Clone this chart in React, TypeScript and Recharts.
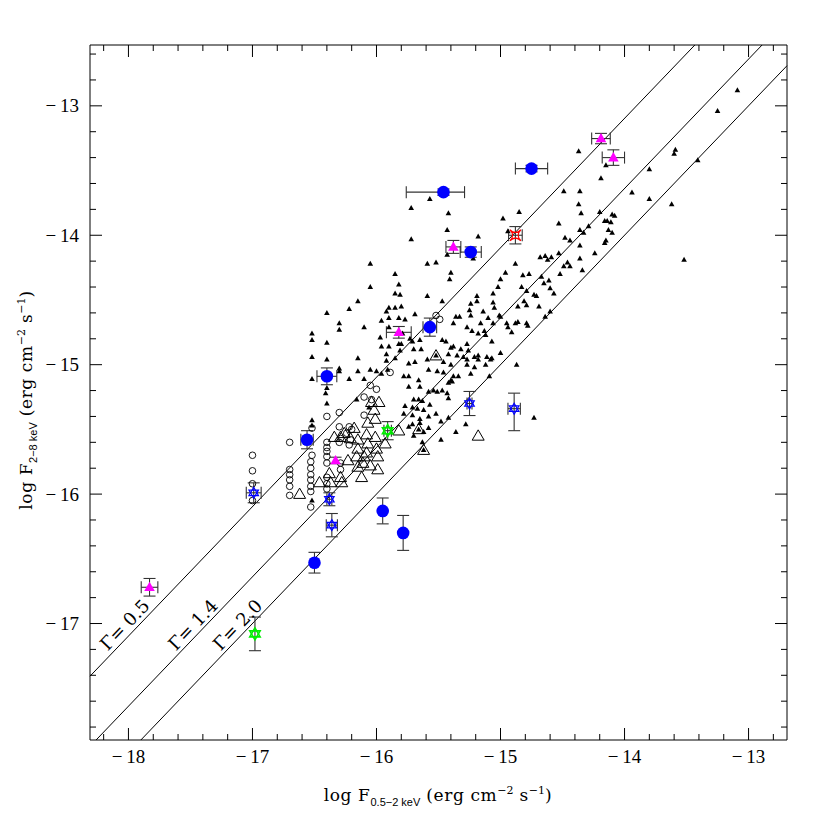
import React from "react"
import { ScatterChart, Scatter, XAxis, YAxis, ErrorBar, ReferenceLine } from "recharts"

// axis ranges (log flux)
const xDomain: [number, number] = [-18.31, -12.69]
const yDomain: [number, number] = [-17.9, -12.53]

const xTicks = [-18.2, -18, -17.8, -17.6, -17.4, -17.2, -17, -16.8, -16.6, -16.4, -16.2, -16, -15.8, -15.6, -15.4, -15.2, -15, -14.8, -14.6, -14.4, -14.2, -14, -13.8, -13.6, -13.4, -13.2, -13, -12.8]
const yTicks = [-17.8, -17.6, -17.4, -17.2, -17, -16.8, -16.6, -16.4, -16.2, -16, -15.8, -15.6, -15.4, -15.2, -15, -14.8, -14.6, -14.4, -14.2, -14, -13.8, -13.6, -13.4, -13.2, -13, -12.8, -12.6]

// small filled triangles (x-ray sources)
const smallTriangles = [
  [-15.57, -13.72], [-15.72, -13.79], [-15.72, -14.03], [-16.05, -14.22], [-15.59, -14.22], [-15.52, -14.21],
  [-15.85, -14.30], [-16.05, -14.40], [-15.82, -14.38], [-15.85, -14.45], [-15.81, -14.46], [-15.59, -14.47],
  [-16.15, -14.51], [-16.22, -14.57], [-15.80, -14.55], [-15.90, -14.56], [-15.85, -14.56], [-16.40, -14.60],
  [-15.92, -14.59], [-15.69, -14.61], [-15.96, -14.66], [-15.82, -14.64], [-15.77, -14.65], [-16.30, -14.68],
  [-16.30, -14.73], [-16.10, -14.71], [-15.90, -14.71], [-16.52, -14.76], [-16.52, -14.81], [-16.40, -14.83],
  [-15.79, -14.76], [-15.73, -14.80], [-15.96, -14.86], [-15.90, -14.86], [-15.82, -14.84], [-15.80, -14.84],
  [-15.71, -14.82], [-15.65, -14.81], [-15.64, -14.88], [-15.92, -14.92], [-16.52, -14.94], [-16.40, -14.96],
  [-16.15, -14.95], [-15.92, -14.97], [-15.74, -14.99], [-15.69, -14.98], [-15.59, -14.96], [-16.30, -15.03],
  [-16.30, -15.05], [-16.15, -15.05], [-16.05, -15.04], [-16.00, -15.05], [-16.52, -15.11], [-16.22, -15.11],
  [-16.10, -15.11], [-15.96, -15.07], [-15.78, -15.09], [-15.74, -15.09], [-15.66, -15.12], [-15.51, -15.05],
  [-16.40, -15.18], [-15.90, -14.64], [-15.97, -14.79], [-15.47, -14.81], [-15.81, -14.89], [-15.70, -14.88],
  [-15.44, -14.82], [-15.40, -14.87], [-15.38, -14.86], [-15.32, -14.88], [-15.85, -14.95], [-15.42, -14.92],
  [-15.35, -14.93], [-15.30, -14.94], [-15.27, -14.96], [-15.21, -14.94], [-15.18, -14.93], [-15.11, -14.94],
  [-15.07, -14.95], [-15.18, -14.96], [-15.08, -14.96], [-15.00, -14.91], [-15.46, -14.98], [-15.40, -15.00],
  [-15.58, -15.04], [-15.46, -15.06], [-15.27, -15.00], [-15.21, -15.02], [-15.12, -15.00], [-15.91, -15.04],
  [-15.40, -15.12], [-15.38, -15.09], [-15.34, -15.09], [-15.24, -15.07], [-15.09, -15.09], [-14.87, -15.00],
  [-15.74, -15.17], [-15.65, -15.17], [-15.58, -15.21], [-15.54, -15.20], [-15.51, -15.21], [-15.47, -15.20],
  [-15.43, -15.22], [-15.70, -15.27], [-15.66, -15.27], [-15.63, -15.28], [-15.77, -15.32], [-15.71, -15.33],
  [-15.67, -15.34], [-15.57, -15.31], [-15.42, -15.26], [-15.78, -15.38], [-15.71, -15.39], [-15.62, -15.35],
  [-15.58, -15.40], [-15.65, -15.42], [-15.42, -15.41], [-15.74, -15.48], [-15.71, -15.46], [-15.58, -15.49],
  [-15.63, -15.60], [-15.48, -15.58], [-15.36, -15.52], [-15.28, -15.46], [-16.52, -15.43], [-16.52, -16.05],
  [-16.06, -15.33], [-16.16, -15.27], [-13.09, -12.88], [-13.25, -13.04], [-14.37, -13.35], [-13.59, -13.34],
  [-13.60, -13.37], [-13.41, -13.42], [-14.15, -13.46], [-13.80, -13.49], [-14.19, -13.56], [-14.49, -13.66],
  [-14.36, -13.66], [-13.94, -13.67], [-13.80, -13.72], [-13.62, -13.76], [-14.37, -13.76], [-15.42, -13.83],
  [-14.85, -13.82], [-14.20, -13.82], [-14.35, -13.83], [-14.10, -13.84], [-14.08, -13.85], [-14.98, -13.87],
  [-14.53, -13.91], [-14.16, -13.89], [-14.14, -13.89], [-14.11, -13.90], [-14.29, -13.93], [-15.43, -13.96],
  [-14.36, -13.96], [-14.33, -13.98], [-14.13, -13.96], [-14.10, -13.98], [-14.94, -13.97], [-14.48, -14.02],
  [-14.44, -14.04], [-15.18, -14.01], [-14.15, -14.04], [-14.16, -14.06], [-14.36, -14.08], [-14.53, -14.14],
  [-15.43, -14.15], [-14.24, -14.14], [-15.22, -14.18], [-14.68, -14.17], [-14.64, -14.16], [-14.62, -14.19],
  [-14.59, -14.17], [-14.36, -14.18], [-14.46, -14.21], [-14.49, -14.24], [-14.44, -14.24], [-13.52, -14.19],
  [-14.88, -14.22], [-14.34, -14.27], [-15.40, -14.29], [-15.41, -14.34], [-14.96, -14.29], [-14.52, -14.30],
  [-14.82, -14.31], [-14.77, -14.30], [-14.67, -14.32], [-14.65, -14.37], [-14.61, -14.35], [-14.60, -14.41],
  [-14.57, -14.45], [-15.00, -14.34], [-15.02, -14.40], [-14.83, -14.40], [-14.79, -14.43], [-15.06, -14.45],
  [-15.19, -14.47], [-15.19, -14.51], [-14.73, -14.46], [-14.71, -14.47], [-14.86, -14.55], [-14.81, -14.51],
  [-14.79, -14.54], [-14.69, -14.55], [-15.47, -14.51], [-15.24, -14.53], [-15.25, -14.58], [-15.24, -14.62],
  [-15.06, -14.52], [-15.05, -14.56], [-15.14, -14.59], [-15.36, -14.63], [-15.33, -14.63], [-15.38, -14.68],
  [-15.10, -14.64], [-15.06, -14.68], [-15.01, -14.62], [-15.00, -14.63], [-14.88, -14.68], [-14.86, -14.67],
  [-14.79, -14.68], [-14.78, -14.70], [-14.64, -14.63], [-14.60, -14.59], [-14.95, -14.68], [-14.94, -14.71],
  [-15.16, -14.68], [-15.27, -14.71], [-15.23, -14.74], [-15.18, -14.76], [-15.13, -14.74], [-15.12, -14.77],
  [-14.91, -14.75], [-15.27, -14.84], [-15.26, -14.89], [-15.07, -14.82], [-15.65, -15.45], [-15.62, -15.52],
  [-15.48, -15.44], [-15.70, -15.55], [-16.41, -15.22], [-16.40, -15.30], [-16.52, -15.47], [-15.42, -15.14],
  [-15.39, -15.13], [-15.52, -15.38], [-14.73, -15.41], [-15.52, -14.93], [-15.66, -15.50], [-15.62, -15.66],
]

// small open circles
const openCircles = [
  [-15.52, -14.62], [-15.49, -14.65], [-16.05, -15.16], [-16.00, -15.19], [-16.10, -15.25], [-16.04, -15.27],
  [-16.10, -15.39], [-16.30, -15.37], [-16.40, -15.40], [-15.89, -15.06], [-16.30, -15.48], [-16.22, -15.48],
  [-16.20, -15.50], [-16.30, -15.60], [-16.29, -15.57], [-16.24, -15.53], [-16.21, -15.58], [-16.52, -15.49],
  [-16.70, -15.60], [-17.00, -15.70], [-17.00, -15.82], [-17.00, -15.92], [-17.00, -16.05], [-16.70, -15.81],
  [-16.70, -15.85], [-16.70, -15.89], [-16.70, -15.94], [-16.70, -16.01], [-16.53, -15.75], [-16.53, -15.80],
  [-16.53, -15.85], [-16.53, -15.89], [-16.53, -15.94], [-16.53, -15.98], [-16.52, -15.70], [-16.53, -16.10],
  [-16.40, -15.60], [-16.40, -15.64], [-16.40, -15.67], [-16.40, -15.71], [-16.40, -15.76], [-16.40, -15.87],
  [-16.40, -15.92], [-16.40, -15.96], [-16.22, -15.62], [-16.29, -15.76], [-16.29, -15.81],
]

// large open triangles
const openTriangles = [
  [-15.52, -14.93], [-15.98, -15.29], [-16.04, -15.29], [-16.01, -15.42], [-16.18, -15.49], [-16.08, -15.54],
  [-16.01, -15.56], [-16.34, -15.56], [-16.29, -15.56], [-16.07, -15.61], [-16.15, -15.65], [-16.16, -15.71],
  [-16.10, -15.71], [-16.00, -15.65], [-15.82, -15.51], [-15.66, -15.50], [-15.93, -15.61], [-15.18, -15.55],
  [-15.62, -15.66], [-16.05, -15.78], [-15.99, -15.81], [-16.12, -15.87], [-16.29, -15.87], [-16.28, -15.91],
  [-16.46, -15.91], [-16.37, -15.91], [-16.62, -16.00], [-16.38, -15.84], [-16.26, -15.53], [-16.21, -15.57],
  [-16.15, -15.58], [-16.08, -15.68], [-15.99, -15.71], [-16.23, -15.74], [-16.15, -15.79], [-16.11, -15.76],
  [-16.02, -15.35], [-16.07, -15.45],
]

// sources with error bars
const blueCircles = [
  { x: -14.75, y: -13.485, ex: 0.13, ey: 0.025 },
  { x: -15.46, y: -13.667, ex: [0.3, 0.17], ey: 0.025 },
  { x: -15.24, y: -14.13, ex: 0.085, ey: 0.04 },
  { x: -15.57, y: -14.71, ex: 0.055, ey: 0.07 },
  { x: -16.4, y: -15.09, ex: 0.08, ey: 0.065 },
  { x: -16.56, y: -15.58, ex: 0.05, ey: 0.07 },
  { x: -15.95, y: -16.13, ex: 0, ey: 0.1 },
  { x: -15.785, y: -16.3, ex: 0, ey: 0.135 },
  { x: -16.5, y: -16.53, ex: 0, ey: 0.08 },
]

const magentaTriangles = [
  { x: -14.19, y: -13.253, ex: 0.075, ey: 0.04 },
  { x: -14.09, y: -13.4, ex: 0.09, ey: 0.06 },
  { x: -15.38, y: -14.09, ex: 0.06, ey: 0.05 },
  { x: -15.82, y: -14.75, ex: 0.1, ey: 0.045 },
  { x: -16.33, y: -15.74, ex: 0, ey: 0.025 },
  { x: -17.83, y: -16.72, ex: 0.067, ey: 0.068 },
]

const blueStars = [
  { x: -16.99, y: -15.99, ex: 0.06, ey: 0.077 },
  { x: -16.38, y: -16.04, ex: 0.02, ey: 0.05 },
  { x: -16.36, y: -16.24, ex: 0.045, ey: 0.09 },
  { x: -15.25, y: -15.3, ex: 0.02, ey: 0.093 },
  { x: -14.89, y: -15.34, ex: 0.05, ey: [0.17, 0.12] },
]

const greenStars = [
  { x: -15.91, y: -15.51, ex: 0.03, ey: 0.07 },
  { x: -16.98, y: -17.08, ex: 0, ey: 0.13 },
]

const redStars = [{ x: -14.88, y: -14.0, ex: 0.055, ey: 0.067 }]

// photon index lines, log F(2-8) = log F(0.5-2) + const
const gammaLines = [
  { name: "0.5", from: [-18.31, -17.407], to: [-13.433, -12.53] },
  { name: "1.4", from: [-18.261, -17.9], to: [-12.891, -12.53] },
  { name: "2.0", from: [-17.9, -17.9], to: [-12.69, -12.69] },
]
const gammaLabels = [
  { x: -18.03, y: -17.01, text: "\u0393= 0.5" },
  { x: -17.48, y: -17.01, text: "\u0393= 1.4" },
  { x: -17.12, y: -17.01, text: "\u0393= 2.0" },
]

const toPts = (arr: number[][]) => arr.map(([x, y]) => ({ x, y }))

const tickFont = { fontFamily: "'Liberation Serif', serif", fontSize: 19, fill: "#000" }
const titleFont = { fontFamily: "'DejaVu Serif', serif", fontSize: 17, fill: "#000", whiteSpace: "pre" as const }
const subFont = { fontFamily: "'Liberation Sans', sans-serif", fontSize: 11 }
const supFont = { fontFamily: "'DejaVu Serif', serif", fontSize: 11 }

const isMajor = (v: number) => Math.abs(v - Math.round(v)) < 1e-6
const fmt = (v: number) => "\u2212\u2009" + Math.abs(Math.round(v))

const makeTick = (side: string) => (p: any) => {
  const v = p.payload.value
  const major = isMajor(v)
  const len = major ? 12 : 6
  const { x, y } = p
  if (side === "bottom")
    return (
      <g>
        <line x1={x} y1={y} x2={x} y2={y - len} stroke="#000" />
        {major && <text x={x} y={y + 23} textAnchor="middle" style={tickFont}>{fmt(v)}</text>}
      </g>
    )
  if (side === "top") return <line x1={x} y1={y} x2={x} y2={y + len} stroke="#000" />
  if (side === "left")
    return (
      <g>
        <line x1={x} y1={y} x2={x + len} y2={y} stroke="#000" />
        {major && <text x={x - 11} y={y} dy="0.35em" textAnchor="end" style={tickFont}>{fmt(v)}</text>}
      </g>
    )
  return <line x1={x} y1={y} x2={x - len} y2={y} stroke="#000" />
}

const XTitle = () => (
  <text x={438} y={801} textAnchor="middle" style={titleFont} letterSpacing={0.6}>
    <tspan>log F</tspan>
    <tspan dy={5} style={subFont} letterSpacing={0}>0.5−2 keV</tspan>
    <tspan dy={-5}> (erg cm</tspan>
    <tspan dy={-7} style={supFont} letterSpacing={0}>−2</tspan>
    <tspan dy={7}> s</tspan>
    <tspan dy={-7} style={supFont} letterSpacing={0}>−1</tspan>
    <tspan dy={7}>)</tspan>
  </text>
)

const YTitle = () => (
  <text x={32} y={400} transform="rotate(-90 32 400)" textAnchor="middle" style={titleFont} letterSpacing={0.6}>
    <tspan>log F</tspan>
    <tspan dy={5} style={subFont} letterSpacing={0}>2−8 keV</tspan>
    <tspan dy={-5}> (erg cm</tspan>
    <tspan dy={-7} style={supFont} letterSpacing={0}>−2</tspan>
    <tspan dy={7}> s</tspan>
    <tspan dy={-7} style={supFont} letterSpacing={0}>−1</tspan>
    <tspan dy={7}>)</tspan>
  </text>
)

const triSmall = (p: any) => (
  <path d={`M${p.cx},${p.cy - 3}L${p.cx + 2.8},${p.cy + 2}L${p.cx - 2.8},${p.cy + 2}Z`} fill="#000" />
)
const circleOpen = (p: any) => <circle cx={p.cx} cy={p.cy} r={3.3} fill="#fff" fillOpacity={0} stroke="#000" strokeWidth={0.9} />
const triOpen = (p: any) => (
  <path d={`M${p.cx},${p.cy - 6}L${p.cx + 6},${p.cy + 4.3}L${p.cx - 6},${p.cy + 4.3}Z`} fill="none" stroke="#000" strokeWidth={1} />
)
const blueDot = (p: any) => <circle cx={p.cx} cy={p.cy} r={6.3} fill="#0000ff" />
const magentaTri = (p: any) => (
  <path d={`M${p.cx},${p.cy - 5.5}L${p.cx + 5.3},${p.cy + 3.8}L${p.cx - 5.3},${p.cy + 3.8}Z`} fill="#ff00ff" />
)
const david = (color: string, r: number, sw: number) => (p: any) => {
  const tri = (a0: number) =>
    [0, 1, 2]
      .map((i) => {
        const a = a0 + (i * 2 * Math.PI) / 3
        return `${p.cx + r * Math.sin(a)},${p.cy - r * Math.cos(a)}`
      })
      .join(" ")
  return (
    <g fill="none" stroke={color} strokeWidth={sw}>
      <polygon points={tri(0)} />
      <polygon points={tri(Math.PI)} />
    </g>
  )
}
const redStar = (p: any) => {
  const { cx, cy } = p
  const s = 5.5
  return (
    <path
      d={`M${cx - s},${cy - s}Q${cx},${cy} ${cx + s},${cy - s}Q${cx},${cy} ${cx + s},${cy + s}Q${cx},${cy} ${cx - s},${cy + s}Q${cx},${cy} ${cx - s},${cy - s}Z`}
      fill="none"
      stroke="#ff0000"
      strokeWidth={1.2}
    />
  )
}
const gammaText = (p: any) => (
  <text
    x={p.cx}
    y={p.cy}
    transform={`rotate(-46.2 ${p.cx} ${p.cy})`}
    textAnchor="middle"
    dy="0.35em"
    style={{ fontFamily: "'DejaVu Serif', serif", fontSize: 18, fill: "#000", whiteSpace: "pre" }}
  >
    {p.payload.text}
  </text>
)

const errStyle = { stroke: "#333", strokeWidth: 1.1 }

const errBars = () => [
  <ErrorBar key="ex" dataKey="ex" direction="x" width={6} {...errStyle} isAnimationActive={false} />,
  <ErrorBar key="ey" dataKey="ey" direction="y" width={6} {...errStyle} isAnimationActive={false} />,
]

export default function App() {
  return (
    <div style={{ position: "absolute", left: 0, top: 0, width: 830, height: 830, background: "#fff" }}>
      <ScatterChart width={830} height={830} margin={{ top: 44, right: 42, bottom: 60, left: 30 }}>
        <XAxis
          xAxisId="b"
          type="number"
          dataKey="x"
          domain={xDomain}
          allowDataOverflow
          ticks={xTicks}
          interval={0}
          tickSize={0}
          tickMargin={0}
          tickLine={false}
          tick={makeTick("bottom")}
          height={30}
          axisLine={{ stroke: "#000" }}
          label={{ content: XTitle }}
        />
        <XAxis
          xAxisId="t"
          orientation="top"
          type="number"
          dataKey="x"
          domain={xDomain}
          allowDataOverflow
          ticks={xTicks}
          interval={0}
          tickSize={0}
          tickMargin={0}
          tickLine={false}
          tick={makeTick("top")}
          height={1}
          axisLine={{ stroke: "#000" }}
        />
        <YAxis
          yAxisId="l"
          type="number"
          dataKey="y"
          domain={yDomain}
          allowDataOverflow
          ticks={yTicks}
          interval={0}
          tickSize={0}
          tickMargin={0}
          tickLine={false}
          tick={makeTick("left")}
          width={60}
          axisLine={{ stroke: "#000" }}
          label={{ content: YTitle }}
        />
        <YAxis
          yAxisId="r"
          orientation="right"
          type="number"
          dataKey="y"
          domain={yDomain}
          allowDataOverflow
          ticks={yTicks}
          interval={0}
          tickSize={0}
          tickMargin={0}
          tickLine={false}
          tick={makeTick("right")}
          width={1}
          axisLine={{ stroke: "#000" }}
        />
        {gammaLines.map((g) => (
          <ReferenceLine
            key={g.name}
            xAxisId="b"
            yAxisId="l"
            segment={[
              { x: g.from[0], y: g.from[1] },
              { x: g.to[0], y: g.to[1] },
            ]}
            stroke="#000"
            strokeWidth={1}
            ifOverflow="visible"
          />
        ))}
        <Scatter xAxisId="b" yAxisId="l" data={gammaLabels} shape={gammaText} isAnimationActive={false} />
        <Scatter xAxisId="b" yAxisId="l" data={toPts(smallTriangles)} shape={triSmall} isAnimationActive={false} />
        <Scatter xAxisId="b" yAxisId="l" data={toPts(openCircles)} shape={circleOpen} isAnimationActive={false} />
        <Scatter xAxisId="b" yAxisId="l" data={toPts(openTriangles)} shape={triOpen} isAnimationActive={false} />
        <Scatter xAxisId="b" yAxisId="l" data={blueCircles} shape={blueDot} isAnimationActive={false}>
          {errBars()}
        </Scatter>
        <Scatter xAxisId="b" yAxisId="l" data={magentaTriangles} shape={magentaTri} isAnimationActive={false}>
          {errBars()}
        </Scatter>
        <Scatter xAxisId="b" yAxisId="l" data={redStars} shape={redStar} isAnimationActive={false}>
          {errBars()}
        </Scatter>
        <Scatter xAxisId="b" yAxisId="l" data={blueStars} shape={david("#0000ff", 5.5, 1.2)} isAnimationActive={false}>
          {errBars()}
        </Scatter>
        <Scatter xAxisId="b" yAxisId="l" data={greenStars} shape={david("#00ee00", 6, 1.6)} isAnimationActive={false}>
          {errBars()}
        </Scatter>
      </ScatterChart>
    </div>
  )
}
